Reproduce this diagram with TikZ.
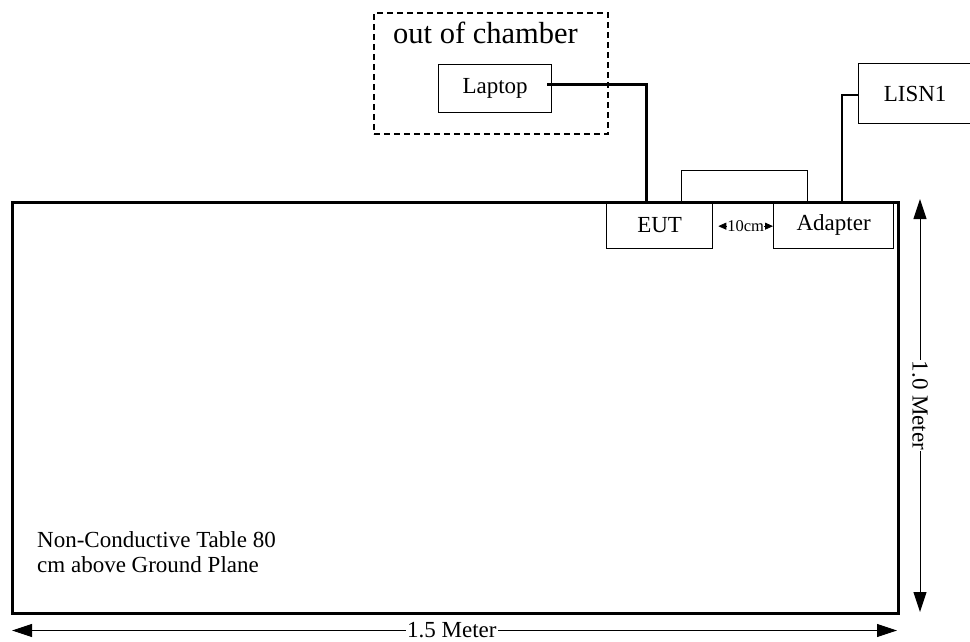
\documentclass[tikz,border=0pt]{standalone}
\usepackage{fontspec}
\setmainfont{Liberation Serif}
\usetikzlibrary{arrows.meta}
\begin{document}
\begin{tikzpicture}[x=1pt,y=-1pt,
  box/.style={draw,line width=1.3pt,inner sep=0pt,anchor=north west},
  thickw/.style={line width=2.8pt},
  thinw/.style={line width=1pt},
  dim/.style={line width=1pt,{Triangle[length=20pt,width=13pt]}-{Triangle[length=20pt,width=13pt]}},
  lbl/.style={font=\fontsize{23}{25}\selectfont}]
\useasboundingbox (0,0) rectangle (970,641);
% table
\node[draw,line width=3pt,minimum width=886pt,minimum height=411pt,inner sep=0pt,anchor=north west] (table) at (11,201) {};
\node[anchor=north west,align=left,inner sep=0pt,lbl] (tabletext) at (37,531.5) {Non-Conductive Table 80\\cm above Ground Plane};
% out of chamber
\node[draw,dash pattern=on 6pt off 4pt,line width=1.5pt,minimum width=234pt,minimum height=121pt,inner sep=0pt,anchor=north west] (chamber) at (373,12) {};
\node[anchor=base west,inner sep=0pt,font=\fontsize{30.5}{34}\selectfont] (chambertext) at (393,43) {out of chamber};
\node[box,minimum width=113pt,minimum height=48pt,lbl] (laptop) at (438,64) {Laptop};
% EUT, adapter, LISN
\node[box,minimum width=106pt,minimum height=47pt,lbl] (eut) at (606,201) {EUT};
\node[box,minimum width=120pt,minimum height=47pt,lbl] (adapter) at (773,201) {Adapter};
\node[box,minimum width=113pt,minimum height=60pt,lbl] (lisn) at (858,63) {LISN1};
% connectors
\draw[thickw] ([xshift=-5pt,yshift=4pt]laptop.east) -| ([xshift=-13pt]eut.north);
\draw[thinw] ([xshift=75pt]eut.north west) -- ++(0,-31) -| ([xshift=34pt]adapter.north west);
\draw[thickw] ([xshift=69pt]adapter.north west) |- ([yshift=-32pt]lisn.north west);
% 10 cm
\draw[line width=0.8pt,{Triangle[length=8pt,width=7pt]}-{Triangle[length=8pt,width=7pt]}] ([xshift=5pt,yshift=-1pt]eut.east) -- ([yshift=-1pt]adapter.west)
  node[midway,fill=white,inner sep=0.5pt,font=\fontsize{16.5}{18}\selectfont] (tencm) {10cm};
% dimensions
\coordinate (vtop) at (920,199);
\coordinate (vbot) at (920,612);
\draw[dim] (vtop) -- (vbot) node[midway,fill=white,rotate=-90,inner sep=0pt,inner xsep=1pt,lbl] (vlabel) {1.0 Meter};
\coordinate (hleft) at (12,630.5);
\coordinate (hright) at (897,630.5);
\draw[dim] (hleft) -- (hright) node[pos=0.497,fill=white,inner sep=0pt,inner xsep=1pt,lbl] (hlabel) {1.5 Meter};
\end{tikzpicture}
\end{document}
